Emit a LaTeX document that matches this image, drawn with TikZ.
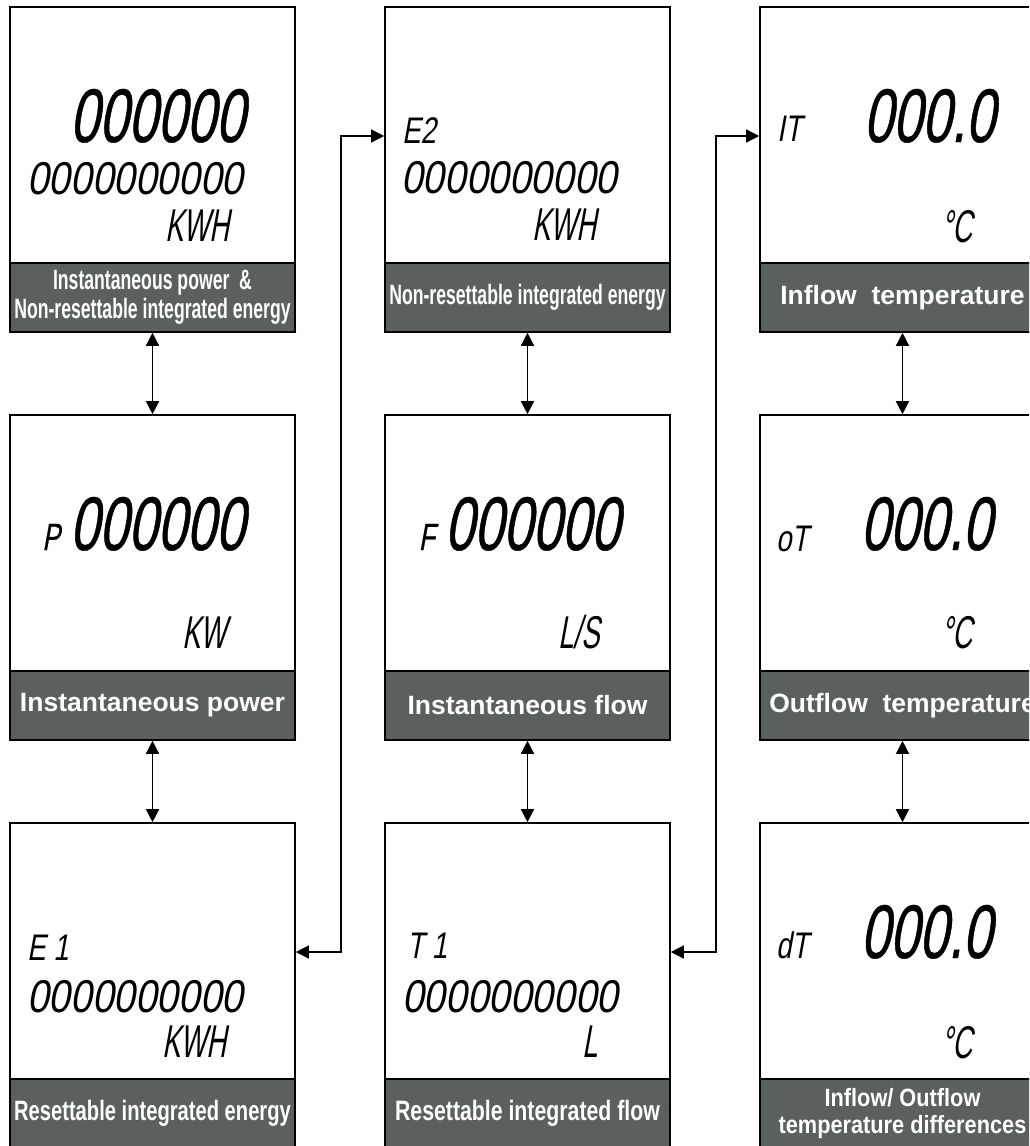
\documentclass[tikz,border=0pt]{standalone}
\usepackage{fontspec}
\setmainfont{Liberation Sans}
\newfontfamily\lcdfont[FakeSlant=0.18]{Liberation Sans}
\usetikzlibrary{arrows.meta}
\definecolor{bandgray}{RGB}{90,96,95}

\begin{document}
\begin{tikzpicture}[x=1pt,y=-1pt,>={Triangle[length=13pt,width=13pt]},
  panel/.style={draw,line width=1.6pt,minimum width=285pt,minimum height=325pt,inner sep=0pt},
  band/.style={draw,line width=1.6pt,fill=bandgray,text=white,minimum width=285pt,minimum height=69pt,inner sep=0pt,align=center,anchor=south,font={\bfseries\fontsize{26.5}{29}\selectfont}},
  narrow/.style={font={\bfseries\addfontfeature{FakeStretch=#1}\fontsize{28}{29}\selectfont}},
  big/.style={anchor=base east,inner sep=0pt,font={\lcdfont\addfontfeature{FakeStretch=0.69,FakeBold=0.6}\fontsize{76}{76}\selectfont}},
  row/.style={anchor=base west,inner sep=0pt,font={\lcdfont\addfontfeature{FakeStretch=0.845}\fontsize{46}{46}\selectfont}},
  unit/.style={anchor=base east,inner sep=0pt,font={\lcdfont\addfontfeature{FakeStretch=0.6}\fontsize{46}{46}\selectfont}},
  tag/.style={anchor=base west,inner sep=0pt,font={\lcdfont\addfontfeature{FakeStretch=0.75}\fontsize{37}{37}\selectfont}},
  link/.style={<->,line width=1.4pt}]
\clip (0,0) rectangle (1029,1146);
% first row
\begin{scope}[shift={(10,7)}]
\node[panel] (pe) at (142.5,162.5) {};
\node[big] (pe-big) at (235,135) {000000};
\node[row] (pe-row) at (17,187) {0000000000};
\node[unit] (pe-unit) at (220,234) {KWH};
\node[band,narrow=0.63] (pe-band) at (pe.south) {Instantaneous power~ \&\\Non-resettable integrated energy};
\end{scope}
\begin{scope}[shift={(385,7)}]
\node[panel] (ne) at (142.5,162.5) {};
\node[tag] (ne-tag) at (17,136) {E2};
\node[row] (ne-row) at (16,186) {0000000000};
\node[unit] (ne-unit) at (212,233) {KWH};
\node[band,narrow=0.63] (ne-band) at (ne.south) {Non-resettable integrated energy};
\end{scope}
\begin{scope}[shift={(760,7)}]
\node[panel] (ti) at (142.5,162.5) {};
\node[tag] (ti-tag) at (17,134) {IT};
\node[big] (ti-big) at (235,135) {000.0};
\node[unit] (ti-unit) at (213,235) {°C};
\node[band] (ti-band) at (ti.south) {Inflow\ \ temperature};
\end{scope}
% second row
\begin{scope}[shift={(10,415)}]
\node[panel] (pw) at (142.5,162.5) {};
\node[big] (pw-big) at (235,135) {{\fontsize{38}{38}\selectfont P}\hspace{10pt}000000};
\node[unit] (pw-unit) at (217,233) {KW};
\node[band] (pw-band) at (pw.south) {Instantaneous power};
\end{scope}
\begin{scope}[shift={(385,415)}]
\node[panel] (fl) at (142.5,162.5) {};
\node[big] (fl-big) at (235,135) {{\fontsize{38}{38}\selectfont F}\hspace{10pt}000000};
\node[unit] (fl-unit) at (215,233) {L/S};
\node[band] (fl-band) at (fl.south) {Instantaneous flow};
\end{scope}
\begin{scope}[shift={(760,415)}]
\node[panel] (to) at (142.5,162.5) {};
\node[tag] (to-tag) at (16,136) {oT};
\node[big] (to-big) at (232,135) {000.0};
\node[unit] (to-unit) at (213,233) {°C};
\node[band] (to-band) at (to.south) {Outflow\ \ temperature};
\end{scope}
% third row
\begin{scope}[shift={(10,823)}]
\node[panel] (re) at (142.5,162.5) {};
\node[tag] (re-tag) at (17,137) {E 1};
\node[row] (re-row) at (17,189) {0000000000};
\node[unit] (re-unit) at (217,234) {KWH};
\node[band,narrow=0.72] (re-band) at (re.south) {Resettable integrated energy};
\end{scope}
\begin{scope}[shift={(385,823)}]
\node[panel] (rf) at (142.5,162.5) {};
\node[tag] (rf-tag) at (22,135) {T 1};
\node[row] (rf-row) at (17,189) {0000000000};
\node[unit] (rf-unit) at (213,234) {L};
\node[band,narrow=0.76] (rf-band) at (rf.south) {Resettable integrated flow};
\end{scope}
\begin{scope}[shift={(760,823)}]
\node[panel] (td) at (142.5,162.5) {};
\node[tag] (td-tag) at (16,135) {dT};
\node[big] (td-big) at (232,135) {000.0};
\node[unit] (td-unit) at (213,235) {°C};
\node[band,font={\bfseries\addfontfeature{FakeStretch=0.87}\fontsize{25}{27}\selectfont}] (td-band) at (td.south) {Inflow/ Outflow\\temperature differences};
\end{scope}
\draw[link] (pe.south) -- (pw.north);
\draw[link] (pw.south) -- (re.north);
\draw[link] (ne.south) -- (fl.north);
\draw[link] (fl.south) -- (rf.north);
\draw[link] (ti.south) -- (to.north);
\draw[link] (to.south) -- (td.north);
\draw[link] ([yshift=33.5pt]re.east) -- ++(45,0) |- ([yshift=33.5pt]ne.west);
\draw[link] ([yshift=33.5pt]rf.east) -- ++(45,0) |- ([yshift=33.5pt]ti.west);
\end{tikzpicture}
\end{document}
